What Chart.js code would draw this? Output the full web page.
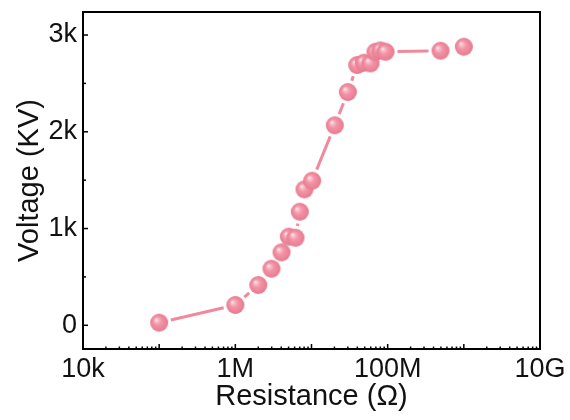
<!DOCTYPE html>
<html>
<head>
<meta charset="utf-8">
<script src="https://cdn.jsdelivr.net/npm/chart.js@4/dist/chart.umd.min.js"></script>
<style>
  body { margin: 0; background: #fff; }
</style>
</head>
<body>
<canvas id="voltChart" width="570" height="420"></canvas>
<script>
// resistance (ohm) and voltage values
var resistance = [1e5, 1e6, 2.0e6, 2.98e6, 4.04e6, 5.04e6, 6.17e6, 7.02e6, 8.09e6, 1.02e7,
  2.02e7, 3.0e7, 3.98e7, 4.87e7, 5.96e7, 6.92e7, 8.05e7, 9.37e7, 4.94e8, 1e9];
var voltage = [27, 210, 416, 585, 754, 916, 905, 1174, 1405, 1494,
  2067, 2411, 2690, 2714, 2707, 2827, 2841, 2827, 2838, 2879];

var xTicks = [1e4, 1e6, 1e8, 1e10];
var xTickLabels = ['10k', '1M', '100M', '10G'];
var yTicks = [0, 500, 1000, 1500, 2000, 2500, 3000];
var yTickLabels = ['0', '', '1k', '', '2k', '', '3k'];

var pink = '#ef8a9e';
var font = 'Liberation Sans, Arial, sans-serif';

// shaded ball marker
function makeBall(r) {
  var c = document.createElement('canvas');
  c.width = c.height = r * 2 + 2;
  var g = c.getContext('2d');
  var cx = r + 1, cy = r + 1;
  var grad = g.createRadialGradient(cx - r * 0.35, cy - r * 0.35, 0, cx, cy, r);
  grad.addColorStop(0, '#ffffff');
  grad.addColorStop(0.15, '#f9c6d0');
  grad.addColorStop(0.45, '#f295a7');
  grad.addColorStop(0.85, '#ec8196');
  grad.addColorStop(1, '#e2768c');
  g.fillStyle = grad;
  g.beginPath();
  g.arc(cx, cy, r, 0, Math.PI * 2);
  g.fill();
  return c;
}

// line between markers, broken near each symbol
var gapLine = {
  id: 'gapLine',
  beforeDatasetsDraw: function (chart) {
    var pts = chart.getDatasetMeta(0).data;
    var gap = 12;
    var ctx = chart.ctx;
    ctx.save();
    ctx.strokeStyle = pink;
    ctx.lineWidth = 3;
    for (var i = 1; i < pts.length; i++) {
      var a = pts[i - 1], b = pts[i];
      var dx = b.x - a.x, dy = b.y - a.y;
      var d = Math.sqrt(dx * dx + dy * dy);
      if (d <= gap * 2) continue;
      var ux = dx / d, uy = dy / d;
      ctx.beginPath();
      ctx.moveTo(a.x + ux * gap, a.y + uy * gap);
      ctx.lineTo(b.x - ux * gap, b.y - uy * gap);
      ctx.stroke();
    }
    ctx.restore();
  }
};

// frame and inward tick marks
var frame = {
  id: 'frame',
  afterDraw: function (chart) {
    var ctx = chart.ctx;
    var area = chart.chartArea;
    var xs = chart.scales.x, ys = chart.scales.y;
    ctx.save();
    ctx.strokeStyle = '#000';
    ctx.lineWidth = 1.5;
    yTicks.forEach(function (v) {
      var y = ys.getPixelForValue(v);
      var len = (v % 1000 === 0) ? 5 : 3;
      ctx.beginPath();
      ctx.moveTo(area.left, y);
      ctx.lineTo(area.left + len, y);
      ctx.stroke();
    });
    for (var e = 4; e <= 10; e++) {
      for (var m = 1; m <= 9; m++) {
        var v = m * Math.pow(10, e);
        if (v > 1e10) break;
        var x = xs.getPixelForValue(v);
        var len = (m === 1) ? 5 : 2.5;
        ctx.beginPath();
        ctx.moveTo(x, area.bottom);
        ctx.lineTo(x, area.bottom - len);
        ctx.stroke();
      }
    }
    ctx.lineWidth = 2;
    ctx.strokeRect(area.left, area.top, area.right - area.left, area.bottom - area.top);
    ctx.restore();
  }
};

var points = resistance.map(function (r, i) { return { x: r, y: voltage[i] }; });

var config = {
  type: 'scatter',
  data: {
    datasets: [
      {
        label: 'Voltage',
        data: points,
        showLine: false,
        pointStyle: makeBall(9),
        pointRadius: 9,
        pointHoverRadius: 9,
      },
    ],
  },
  options: {
    responsive: false,
    animation: false,
    layout: { padding: { top: 12, right: 30, left: 0, bottom: 0 } },
    plugins: {
      legend: { display: false },
      tooltip: { enabled: false },
    },
    scales: {
      x: {
        type: 'logarithmic',
        min: 1e4,
        max: 1e10,
        grid: { display: false, drawTicks: false },
        border: { display: false },
        afterFit: function (s) {
          s.height = 71;
          s.paddingLeft = 0;
          s.paddingRight = 0;
        },
        afterBuildTicks: function (s) {
          s.ticks = xTicks.map(function (v) { return { value: v }; });
        },
        ticks: {
          autoSkip: false,
          maxRotation: 0,
          padding: 4,
          color: '#111',
          font: { family: font, size: 27 },
          callback: function (v) {
            var i = xTicks.indexOf(v);
            return i >= 0 ? xTickLabels[i] : '';
          },
        },
        title: {
          display: true,
          text: 'Resistance (Ω)',
          color: '#111',
          font: { family: font, size: 29 },
          padding: { top: 0, bottom: 6 },
        },
      },
      y: {
        min: -245,
        max: 3238,
        grid: { display: false, drawTicks: false },
        border: { display: false },
        afterFit: function (s) {
          s.width = 83;
          s.paddingTop = 0;
          s.paddingBottom = 0;
        },
        afterBuildTicks: function (s) {
          s.ticks = yTicks.map(function (v) { return { value: v }; });
        },
        ticks: {
          autoSkip: false,
          padding: 6,
          color: '#111',
          font: { family: font, size: 27 },
          callback: function (v) {
            var i = yTicks.indexOf(v);
            return i >= 0 ? yTickLabels[i] : '';
          },
        },
        title: {
          display: true,
          text: 'Voltage (KV)',
          color: '#111',
          font: { family: font, size: 29 },
          padding: { top: 13, bottom: 0 },
        },
      },
    },
  },
  plugins: [gapLine, frame],
};

var voltChart = new Chart(document.getElementById('voltChart'), config);
</script>
</body>
</html>
